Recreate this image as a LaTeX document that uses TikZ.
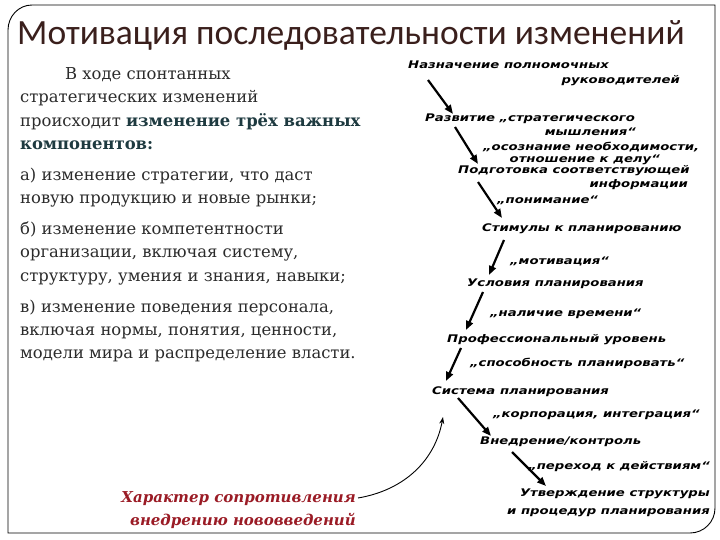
\documentclass[tikz,border=0pt]{standalone}
\usepackage{fontspec}
\setmainfont{DejaVu Serif}
\newfontfamily\titlefont{Carlito}
\newfontfamily\hwfont{DejaVu Sans}
\usetikzlibrary{arrows.meta}
\definecolor{titlec}{HTML}{3A1F1C}
\definecolor{bodyc}{HTML}{2B2B2B}
\definecolor{boldc}{HTML}{1E3A40}
\definecolor{redc}{HTML}{9A1B25}
\newcommand{\hwt}[1]{\scalebox{1.26}[1]{\hwfont\bfseries\itshape #1}}
\tikzset{
  body/.style={anchor=base west,inner sep=0pt,text=bodyc,font=\fontsize{16.4}{18}\selectfont},
  hw/.style={anchor=base west,inner sep=0pt,font=\fontsize{10.5}{12}\selectfont},
  hwr/.style={anchor=base east,inner sep=0pt,font=\fontsize{10.5}{12}\selectfont},
  step arrow/.style={line width=2.2pt,-{Triangle[length=9pt,width=7pt]}},
  redt/.style={anchor=base east,inner sep=0pt,text=redc,font=\fontsize{15}{17}\selectfont\bfseries\itshape}
}
\begin{document}
\begin{tikzpicture}[x=1pt,y=-1pt]
\useasboundingbox (0,0) rectangle (720,540);
\draw[line width=0.9pt] (8,533) -- (8,30) to[out=90,in=180] (32,5) -- (715,5) -- (715,508) to[out=-90,in=0] (690,533) -- cycle;
\node[anchor=base west,inner sep=0pt,text=titlec,font=\titlefont\fontsize{35.5}{38}\selectfont] (title) at (17,45) {Мотивация последовательности изменений};
\node[body] (l1) at (65,80) {В ходе спонтанных};
\node[body] (l2) at (20,103) {стратегических изменений};
\node[body] (l3) at (20,127) {происходит \textbf{\color{boldc}изменение трёх важных}};
\node[body] (l4) at (20,150) {\textbf{\color{boldc}компонентов:}};
\node[body] (l5) at (20,181) {а) изменение стратегии, что даст};
\node[body] (l6) at (20,204) {новую продукцию и новые рынки;};
\node[body] (l7) at (20,235) {б) изменение компетентности};
\node[body] (l8) at (20,258) {организации, включая систему,};
\node[body] (l9) at (20,281) {структуру, умения и знания, навыки;};
\node[body] (l10) at (20,312) {в) изменение поведения персонала,};
\node[body] (l11) at (20,335) {включая нормы, понятия, ценности,};
\node[body] (l12) at (20,358) {модели мира и распределение власти.};
% handwritten chain
\node[hw] (a1) at (408,69) {\hwt{Назначение полномочных}};
\node[hwr] (a1b) at (680,84) {\hwt{руководителей}};
\node[hw] (a2) at (425,122) {\hwt{Развитие „стратегического}};
\node[hwr] (a2b) at (636,136) {\hwt{мышления“}};
\node[hw] (c2) at (483,151) {\hwt{„осознание необходимости,}};
\node[hwr] (c2b) at (660,163) {\hwt{отношение к делу“}};
\node[hw] (a3) at (458,174) {\hwt{Подготовка соответствующей}};
\node[hwr] (a3b) at (688,188) {\hwt{информации}};
\node[hw] (c3) at (497,204) {\hwt{„понимание“}};
\node[hw] (a4) at (482,232) {\hwt{Стимулы к планированию}};
\node[hw] (c4) at (510,264) {\hwt{„мотивация“}};
\node[hw] (a5) at (467,286) {\hwt{Условия планирования}};
\node[hw] (c5) at (490,316) {\hwt{„наличие времени“}};
\node[hw] (a6) at (447,342) {\hwt{Профессиональный уровень}};
\node[hw] (c6) at (470,366) {\hwt{„способность планировать“}};
\node[hw] (a7) at (432,394) {\hwt{Система планирования}};
\node[hw] (c7) at (493,417) {\hwt{„корпорация, интеграция“}};
\node[hw] (a8) at (480,444) {\hwt{Внедрение/контроль}};
\node[hwr] (c8) at (710,469) {\hwt{„переход к действиям“}};
\node[hwr] (a9) at (710,496) {\hwt{Утверждение структуры}};
\node[hwr] (a9b) at (710,514) {\hwt{и процедур планирования}};
% arrows
\coordinate (s1) at (428,80); \coordinate (e1) at (453,114);
\coordinate (s2) at (455,127); \coordinate (e2) at (478,164);
\coordinate (s3) at (478,182); \coordinate (e3) at (502,218);
\coordinate (s4) at (504,240); \coordinate (e4) at (489,275);
\coordinate (s5) at (483,292); \coordinate (e5) at (466,330);
\coordinate (s6) at (461,348); \coordinate (e6) at (446,381);
\coordinate (s7) at (458,398); \coordinate (e7) at (491,436);
\coordinate (s8) at (512,452); \coordinate (e8) at (546,486);
\foreach \i in {1,...,8} \draw[step arrow] (s\i) -- (e\i);
% resistance
\node[redt] (r1) at (356,502) {Характер сопротивления};
\node[redt] (r2) at (356,525) {внедрению нововведений};
\draw[line width=0.9pt,-{Stealth[length=7pt,width=5pt]}] (r1.base east) ++(2,-4) .. controls (405,490) and (435,460) .. (443,417);
\end{tikzpicture}
\end{document}
